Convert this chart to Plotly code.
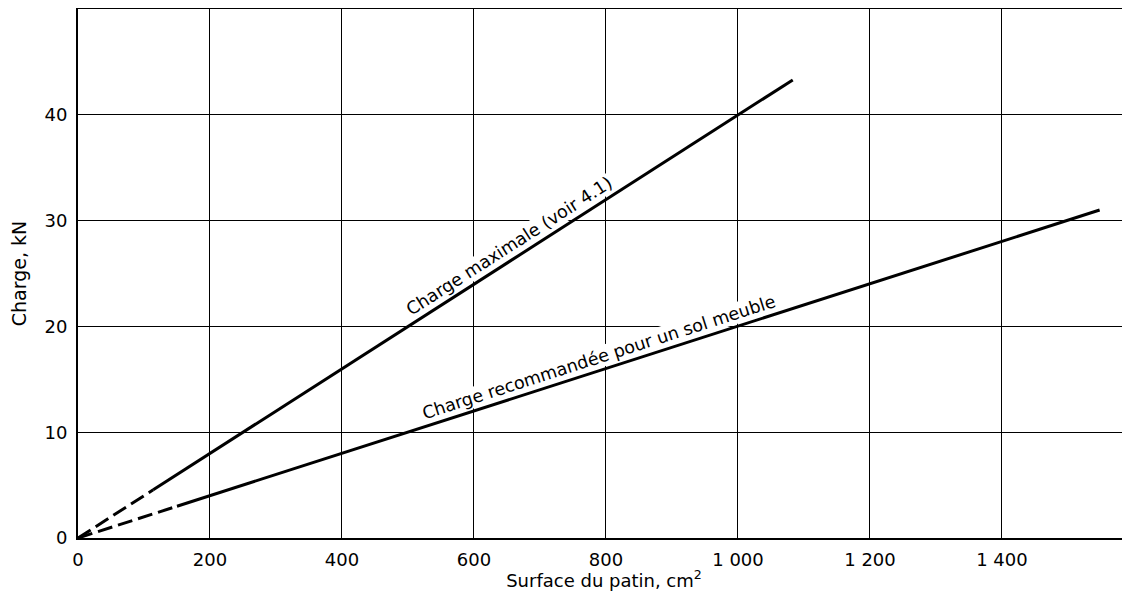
import math
import plotly.graph_objects as go

# ---- data ----
max_dash_x = [0, 114]
max_dash_y = [0, 4.56]
max_solid_x = [114, 1083]
max_solid_y = [4.56, 43.3]

rec_dash_x = [0, 150]
rec_dash_y = [0, 3.0]
rec_solid_x = [150, 1548]
rec_solid_y = [3.0, 31.0]

x_tickvals = [0, 200, 400, 600, 800, 1000, 1200, 1400]
x_ticktext = ["0", "200", "400", "600", "800", "1 000", "1 200", "1 400"]
y_tickvals = [0, 10, 20, 30, 40]
y_ticktext = ["0", "10", "20", "30", "40"]

label_texts = ["Charge maximale (voir 4.1)", "Charge recommandée pour un sol meuble"]
label_x = [664, 796]
label_y = [26.56, 15.92]
label_angles = [32.7, 17.8]

FONT = "DejaVu Sans"
fig = go.Figure()

line_style = dict(color="black", width=3)
dash_style = dict(color="black", width=3, dash="15px,6px")
fig.add_trace(go.Scatter(x=max_dash_x, y=max_dash_y, mode="lines", line=dash_style, hoverinfo="skip"))
fig.add_trace(go.Scatter(x=max_solid_x, y=max_solid_y, mode="lines", line=line_style, hoverinfo="skip"))
fig.add_trace(go.Scatter(x=rec_dash_x, y=rec_dash_y, mode="lines", line=dash_style, hoverinfo="skip"))
fig.add_trace(go.Scatter(x=rec_solid_x, y=rec_solid_y, mode="lines", line=line_style, hoverinfo="skip"))

for t, lx, ly, ang in zip(label_texts, label_x, label_y, label_angles):
    off = 13
    r = math.radians(ang)
    fig.add_annotation(x=lx, y=ly, xref="x", yref="y", text=t, showarrow=False,
                       textangle=-ang, bgcolor="white", borderpad=0,
                       xshift=-off * math.sin(r), yshift=off * math.cos(r),
                       font=dict(family=FONT, size=17.5, color="black"))

# page body has an 8px default margin, so the figure is sized to fit the window
fig.update_layout(
    width=1122, height=583,
    margin=dict(l=70, r=0, t=1, b=53, autoexpand=False),
    plot_bgcolor="white", paper_bgcolor="white",
    showlegend=False,
    font=dict(family=FONT, size=18, color="black"),
)
fig.update_xaxes(range=[0, 1594], tickvals=x_tickvals, ticktext=x_ticktext,
                 showgrid=True, gridcolor="black", gridwidth=1,
                 showline=True, linecolor="black", linewidth=2, mirror=True,
                 zeroline=False, ticks="", ticklabelstandoff=4, automargin=False,
                 tickfont=dict(family=FONT, size=18),
                 title=dict(text="Surface du patin, cm<sup>2</sup>", standoff=9,
                            font=dict(family=FONT, size=18)))
fig.update_yaxes(range=[0, 50], tickvals=y_tickvals, ticktext=y_ticktext,
                 showgrid=True, gridcolor="black", gridwidth=1,
                 showline=True, linecolor="black", linewidth=2,
                 zeroline=False, ticks="", ticklabelstandoff=5, automargin=False,
                 tickfont=dict(family=FONT, size=18),
                 title=dict(text="Charge, kN", standoff=14,
                            font=dict(family=FONT, size=19)))

fig.write_html("out.html")
